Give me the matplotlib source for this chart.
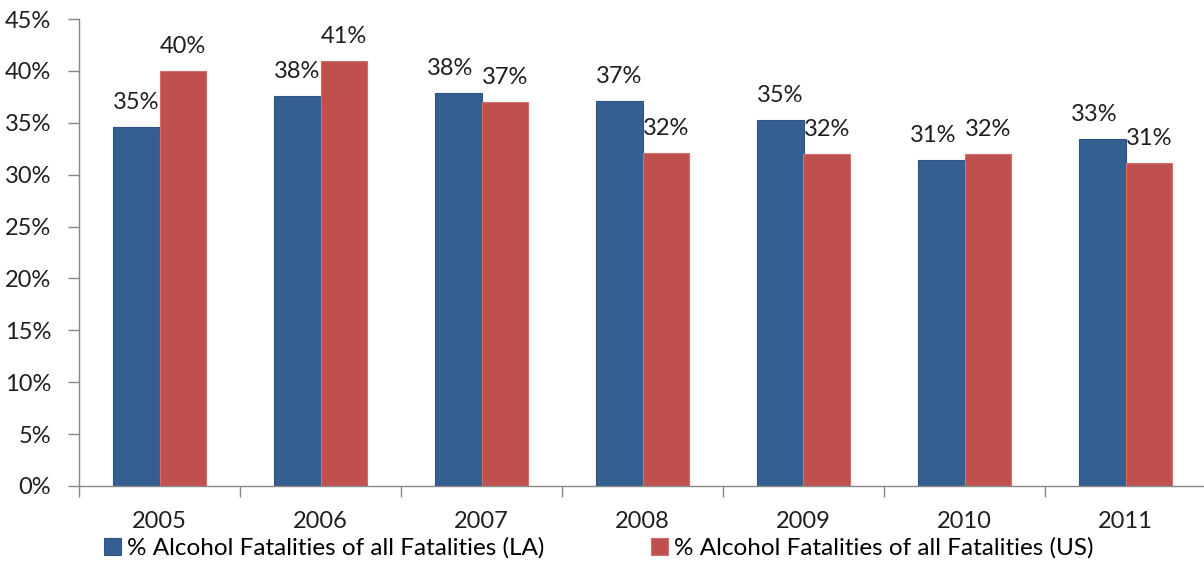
import matplotlib
matplotlib.use("Agg")
import matplotlib.pyplot as plt
import numpy as np

years = ["2005", "2006", "2007", "2008", "2009", "2010", "2011"]
la_values = [34.6, 37.6, 37.9, 37.1, 35.3, 31.4, 33.4]
us_values = [40.0, 41.0, 37.0, 32.1, 32.0, 32.0, 31.1]
series_names = ["% Alcohol Fatalities of all Fatalities (LA)",
                "% Alcohol Fatalities of all Fatalities (US)"]
y_ticks = list(range(0, 50, 5))

plt.rcParams['font.family'] = ['Lato', 'DejaVu Sans']
FS = 17
TXT = "#1f1f1f"
fig = plt.figure(figsize=(12.04, 5.61), dpi=100)
ax = fig.add_axes([79/1204, 1-486/561, 1127/1204, (486-19)/561])

x = np.arange(len(years))
w = 0.29
blue = "#365F91"
red = "#C0504D"
b1 = ax.bar(x - w/2, la_values, w, color=blue, edgecolor="#2E5382", linewidth=0.8, label=series_names[0])
b2 = ax.bar(x + w/2, us_values, w, color=red, edgecolor="#D0706D", linewidth=0.8, label=series_names[1])

# data labels; nudge the LA label left when it would collide with the US label
for i, (r1, r2) in enumerate(zip(b1, b2)):
    close = abs(la_values[i] - us_values[i]) < 2.5
    for rect, v, dx in ((r1, la_values[i], -6 if close else 0), (r2, us_values[i], 0)):
        ax.annotate(f"{round(v):d}%", (rect.get_x() + rect.get_width()/2, v),
                    xytext=(dx, 10), textcoords="offset points",
                    ha="center", va="bottom", fontsize=FS, color=TXT)

ax.set_xlim(-0.5, 6.5)
ax.set_ylim(0, 45)
ax.set_yticks(y_ticks)
ax.set_yticklabels([f"{t}%" for t in y_ticks], fontsize=FS, color=TXT)
ax.set_xticks(x)
ax.set_xticklabels(years, fontsize=FS, color=TXT)
ax.set_xticks(np.arange(-0.5, 7.0, 1.0), minor=True)
ax.tick_params(axis='x', which='major', length=0, pad=18)
ax.tick_params(axis='x', which='minor', length=8, color="#888888", width=1)
ax.tick_params(axis='y', length=8, color="#888888", width=1, pad=12)
for s in ("top", "right"):
    ax.spines[s].set_visible(False)
for s in ("left", "bottom"):
    ax.spines[s].set_color("#888888")
    ax.spines[s].set_linewidth(1)

fig.legend(handles=[b1, b2], labels=series_names, loc="center left", bbox_to_anchor=(104/1204, 1-548/561),
           ncol=2, frameon=False, fontsize=17.5, handlelength=0.7, handleheight=0.7,
           handletextpad=0.25, columnspacing=4.4, borderpad=0, borderaxespad=0)

fig.savefig("out.png", dpi=100)
